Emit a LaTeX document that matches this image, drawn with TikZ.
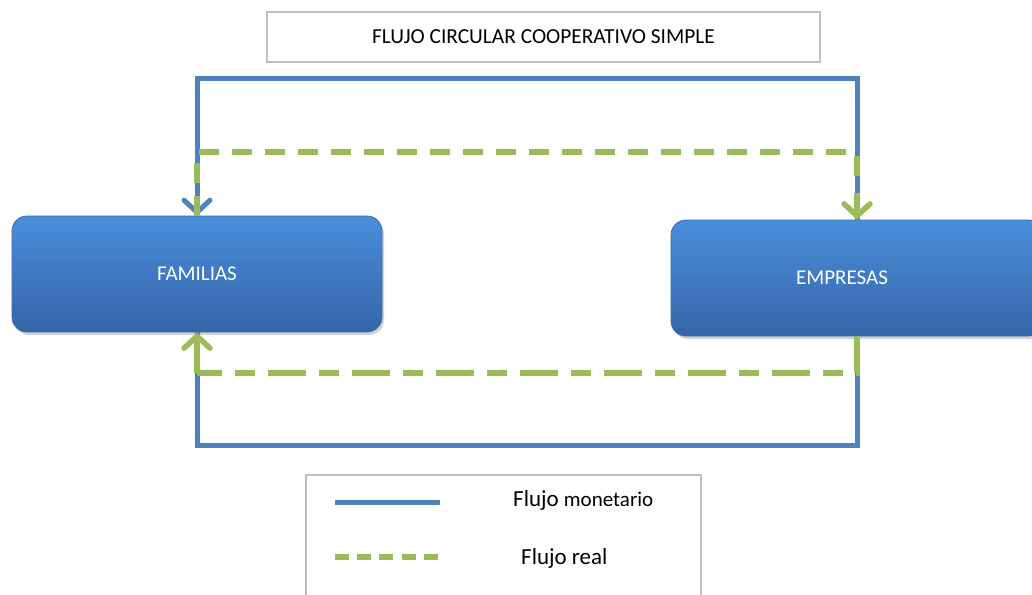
\documentclass[tikz,border=0pt]{standalone}
\usepackage{fontspec}
\setmainfont{Carlito}
\usetikzlibrary{arrows.meta,shadows}
\definecolor{mon}{HTML}{4F81BD}
\definecolor{real}{HTML}{9BBB59}
\definecolor{boxtop}{HTML}{4A8EDB}
\definecolor{boxbot}{HTML}{3565A8}
\definecolor{boxline}{HTML}{3A6DB0}
\definecolor{frame}{HTML}{BFBFBF}
\tikzset{
  agent/.style={rounded corners=15pt, top color=boxtop, bottom color=boxbot, draw=boxline, line width=0.8pt,
    text=white, font=\fontsize{21}{24}\selectfont,
    drop shadow={opacity=0.35, shadow xshift=2pt, shadow yshift=-3pt}},
  monflow/.style={draw=mon, line width=5pt, line join=miter},
  realflow/.style={draw=real, line width=5.5pt, dash pattern=on 20pt off 13pt},
  tipmon/.style={-{Straight Barb[length=12pt,width=26pt,line width=5pt,line cap=round]}},
  tipreal/.style={-{Straight Barb[length=12pt,width=26pt,line width=5.5pt,line cap=round,color=real]}},
  framebox/.style={draw=frame, line width=1.5pt, fill=white}
}
\begin{document}
\begin{tikzpicture}[x=1pt,y=-1pt]
\useasboundingbox (0,0) rectangle (1032,594);
\fill[white] (0,0) rectangle (1032,594);
% title
\node[framebox, minimum width=553pt, minimum height=50pt, font=\fontsize{21.4}{24}\selectfont] (title) at (543.5,37) {FLUJO CIRCULAR COOPERATIVO SIMPLE};
% agents
\node[agent, minimum width=370pt, minimum height=116pt] (fam) at (197,274) {FAMILIAS};
\node[agent, minimum width=372pt, minimum height=116pt, text width=340pt, align=center] (emp) at (857,278) {\hspace*{-30pt}EMPRESAS};
% routing coordinates
\coordinate (L) at (197,0);
\coordinate (R) at (857,0);
\coordinate (mt) at (0,78);
\coordinate (rt) at (0,152);
\coordinate (rb) at (0,373);
\coordinate (mb) at (0,445);
% monetary flow
\draw[monflow, tipmon] (emp.north -| R) -- (R |- mt) -- (L |- mt) -- (fam.north -| L);
\draw[monflow] (fam.south -| L) -- (L |- mb) -- (R |- mb) -- (emp.south -| R);
% real flow
\draw[realflow] (fam.north -| L) -- (L |- rt) -- (R |- rt);
\draw[realflow, dash pattern=on 0pt off 4pt on 20pt off 13pt, tipreal] (R |- rt) -- (emp.north -| R);
\draw[realflow, dash pattern=on 38pt off 13pt on 20pt off 13pt] (emp.south -| R) -- (R |- rb) -- (L |- rb);
\draw[realflow, solid, tipreal] (L |- rb) -- (fam.south -| L);
% legend
\node[framebox, minimum width=395pt, minimum height=130pt, anchor=north west] (leg) at (305,474) {};
\coordinate (l1a) at (335,502);
\coordinate (l1b) at (440,502);
\coordinate (l2a) at (335,557);
\coordinate (l2b) at (440,557);
\draw[draw=mon, line width=5pt] (l1a) -- (l1b);
\draw[draw=real, line width=5.5pt, dash pattern=on 14pt off 8.2pt] (l2a) -- (l2b);
\node[anchor=west, inner sep=0pt] (t1) at (513,500) {\fontsize{23}{26}\selectfont Flujo \fontsize{21}{26}\selectfont monetario};
\node[anchor=west, inner sep=0pt] (t2) at (521,558) {\fontsize{23}{26}\selectfont Flujo real};
\end{tikzpicture}
\end{document}
